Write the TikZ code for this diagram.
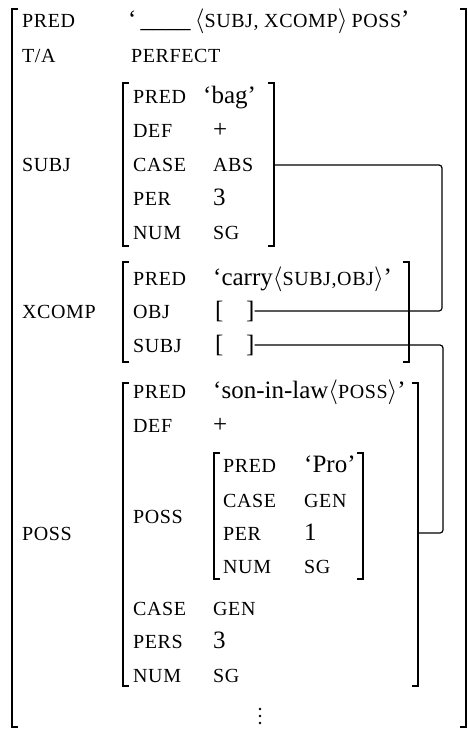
\documentclass[tikz,border=0pt]{standalone}
\usepackage{fontspec}
\setmainfont{Liberation Serif}
\newfontfamily\capsfont[LetterSpace=3]{Liberation Serif}
\usetikzlibrary{calc}
% feature names and atomic values in small capitals
\newcommand\ft[1]{{\capsfont\fontsize{20}{20}\selectfont #1}}
% square brackets of an attribute-value matrix: x, top, bottom
\newcommand\lbrk[3]{\draw[brk] (#1+6,#2) -- (#1,#2) -- (#1,#3) -- (#1+6,#3);}
\newcommand\rbrk[3]{\draw[brk] (#1-6,#2) -- (#1,#2) -- (#1,#3) -- (#1-6,#3);}
\begin{document}
\begin{tikzpicture}[x=1pt,y=-1pt,
  txt/.style={anchor=base west,inner sep=0pt,font=\fontsize{25}{25}\selectfont},
  brk/.style={line width=2pt},
  link/.style={line width=1.2pt,rounded corners=3pt},
  dot/.style={circle,fill,inner sep=0pt,minimum size=2.8pt}]
\useasboundingbox (0,0) rectangle (468,729);

% outer f-structure
\lbrk{12}{9}{727}
\rbrk{466}{9}{727}
\node[txt] (pred0) at (22,27) {\ft{PRED}};
\node[txt] (pred0v) at (128,27) {‘\,\_\_\_\_\,$\langle$\ft{SUBJ, XCOMP}$\rangle$\,\ft{POSS}’};
\node[txt] (ta) at (22,62) {\ft{T/A}};
\node[txt] (tav) at (131,62) {\ft{PERFECT}};

% SUBJ
\node[txt] (subj) at (22,171.5) {\ft{SUBJ}};
\lbrk{123}{83}{246}
\rbrk{274}{83}{246}
\node[txt] (s1) at (133,103) {\ft{PRED}};
\node[txt] (s1v) at (203,103) {‘bag’};
\node[txt] (s2) at (133,137) {\ft{DEF}};
\node[txt] (s2v) at (213,137) {+};
\node[txt] (s3) at (133,171.5) {\ft{CASE}};
\node[txt] (s3v) at (213,171.5) {\ft{ABS}};
\node[txt] (s4) at (133,205) {\ft{PER}};
\node[txt] (s4v) at (213,205) {3};
\node[txt] (s5) at (133,239) {\ft{NUM}};
\node[txt] (s5v) at (213,239) {\ft{SG}};
\coordinate (subjE) at (274,165);

% XCOMP
\node[txt] (xcomp) at (22,318) {\ft{XCOMP}};
\lbrk{123}{262}{362}
\rbrk{409}{262}{362}
\node[txt] (x1) at (133,285) {\ft{PRED}};
\node[txt] (x1v) at (213,285) {‘carry$\langle$\ft{SUBJ,OBJ}$\rangle$’};
\node[txt] (x2) at (133,318) {\ft{OBJ}};
\node[txt] (objL) at (215,318) {[};
\node[txt] (objR) at (246,318) {]};
\node[txt] (x3) at (133,352) {\ft{SUBJ}};
\node[txt] (sbjL) at (215,352) {[};
\node[txt] (sbjR) at (246,352) {]};

% POSS
\node[txt] (poss) at (22,540) {\ft{POSS}};
\lbrk{123}{383}{686}
\rbrk{418}{383}{686}
\node[txt] (p1) at (133,398) {\ft{PRED}};
\node[txt] (p1v) at (213,398) {‘son-in-law$\langle$\ft{POSS}$\rangle$’};
\node[txt] (p2) at (133,432) {\ft{DEF}};
\node[txt] (p2v) at (213,432) {+};
\node[txt] (p3) at (133,523) {\ft{POSS}};
\lbrk{214}{453}{579}
\rbrk{363}{453}{579}
\node[txt] (q1) at (223,472) {\ft{PRED}};
\node[txt] (q1v) at (304,472) {‘Pro’};
\node[txt] (q2) at (223,507) {\ft{CASE}};
\node[txt] (q2v) at (304,507) {\ft{GEN}};
\node[txt] (q3) at (223,540) {\ft{PER}};
\node[txt] (q3v) at (304,540) {1};
\node[txt] (q4) at (223,573) {\ft{NUM}};
\node[txt] (q4v) at (304,573) {\ft{SG}};
\node[txt] (p4) at (133,615) {\ft{CASE}};
\node[txt] (p4v) at (213,615) {\ft{GEN}};
\node[txt] (p5) at (133,648) {\ft{PERS}};
\node[txt] (p5v) at (213,648) {3};
\node[txt] (p6) at (133,682) {\ft{NUM}};
\node[txt] (p6v) at (213,682) {\ft{SG}};
\coordinate (possE) at (418,533);

% vertical ellipsis: further attributes omitted
\node[dot] (d1) at (260,709) {};
\node[dot] (d2) at (260,716) {};
\node[dot] (d3) at (260,723) {};

% structure-sharing lines
\coordinate (railA) at (442,0);
\coordinate (railB) at (443,0);
\draw[link] (subjE) -- (subjE -| railA) -- (railA |- objR.east) -- (objR.east);
\draw[link] (sbjR.east) -- (sbjR.east -| railB) -- (railB |- possE) -- (possE);
\end{tikzpicture}
\end{document}
